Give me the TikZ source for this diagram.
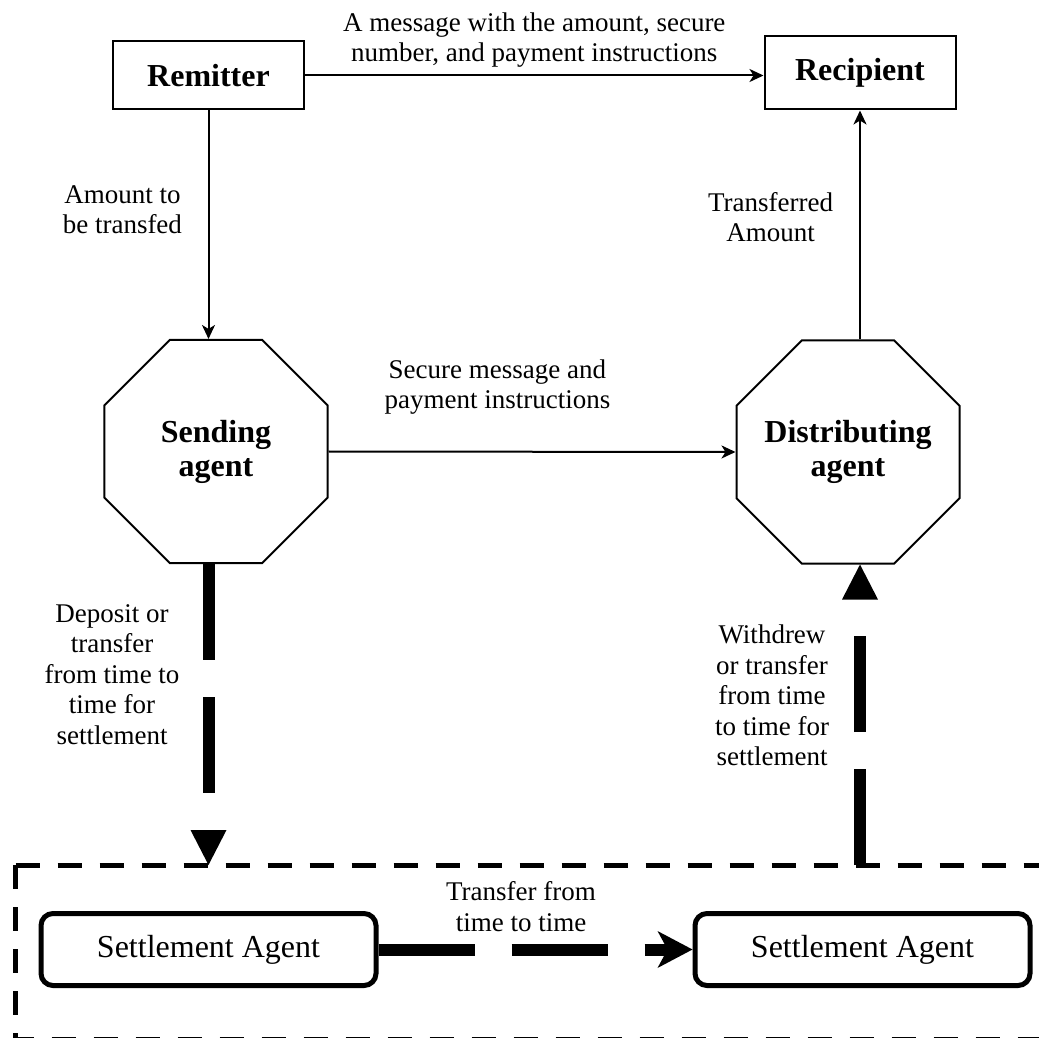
\documentclass[tikz,border=0pt]{standalone}
\usepackage{fontspec}
\setmainfont{Liberation Serif}
\usetikzlibrary{positioning, arrows.meta, shapes.geometric}

\tikzset{
    plainbox/.style={draw, line width=1pt, minimum width=95.5pt, minimum height=34pt, inner sep=2pt, font=\fontsize{16}{17}\selectfont\bfseries},
    octa/.style={draw, line width=1pt, regular polygon, regular polygon sides=8, minimum size=120.7pt, inner sep=-14pt, align=center, font=\fontsize{16}{17}\selectfont\bfseries},
    settlebox/.style={draw, line width=2.5pt, rounded corners=6pt, minimum width=167.5pt, minimum height=36pt, font=\fontsize{16}{17}\selectfont},
    lbl/.style={align=center, inner sep=1pt, font=\fontsize{13.5}{15.3}\selectfont},
    thinarrow/.style={line width=1pt, -{Stealth[length=7pt, width=6.5pt, inset=2pt]}},
    thickflow/.style={line width=6pt, dash pattern=on 48pt off 18.5pt},
    frame/.style={line width=2.5pt, dash pattern=on 12pt off 9pt}
}

\begin{document}
\begin{tikzpicture}[x=0.5pt, y=-0.5pt]
    \useasboundingbox (0,0) rectangle (1039,1038);

    % Top row
    \node[plainbox] (remitter) at (208.5,75.5) {Remitter};
    \node[plainbox, minimum height=36.5pt] (recipient) at (860,73) {Recipient};

    % Agents
    \node[octa] (sending) at (216,451.5) {Sending\\agent};
    \node[octa] (distrib) at (848,452) {Distributing\\agent};

    % Settlement
    \node[settlebox] (settleL) at (208.5,949.5) {Settlement Agent};
    \node[settlebox] (settleR) at (862.5,949.5) {Settlement Agent};
    \coordinate (framenw) at (15.5,865);

    % Dashed frame
    \draw[frame] (framenw) -- (1045,865);
    \draw[frame] (framenw) -- (15.5,1039) -- (1045,1039);

    % Messages
    \draw[thinarrow] (remitter.east) -- node[lbl, above=2.5pt] {A message with the amount, secure\\number, and payment instructions} (remitter.east -| recipient.west);
    \draw[thinarrow] (remitter.south) -- node[lbl, left=11.75pt, pos=0.435] {Amount to\\be transfed} (remitter.south |- sending.north);
    \draw[thinarrow] (sending.east) -- node[lbl, above=17pt, pos=0.415] {Secure message and\\payment instructions} (distrib.west);
    \draw[thinarrow] (recipient.south |- distrib.north) -- node[lbl, left=12pt, pos=0.535] {Transferred\\Amount} (recipient.south);

    % Settlement flows
    \draw[thickflow, -{Triangle[length=17.5pt, width=18pt, line width=0pt]}] (remitter |- sending.south) -- node[lbl, left=10.5pt, pos=0.367] {Deposit or\\transfer\\from time to\\time for\\settlement} (remitter |- framenw);
    \draw[thickflow, -{Triangle[length=17.5pt, width=18pt, line width=0pt]}] (recipient |- framenw) -- node[lbl, left=11.5pt, pos=0.564] {Withdrew\\or transfer\\from time\\to time for\\settlement} (recipient |- distrib.south);
    \draw[thickflow, -{Stealth[length=17.5pt, width=18.5pt, inset=5pt, line width=0pt]}] (settleL.east) -- node[lbl, above=5pt, pos=0.454] {Transfer from\\time to time} (settleR.west);
\end{tikzpicture}
\end{document}
